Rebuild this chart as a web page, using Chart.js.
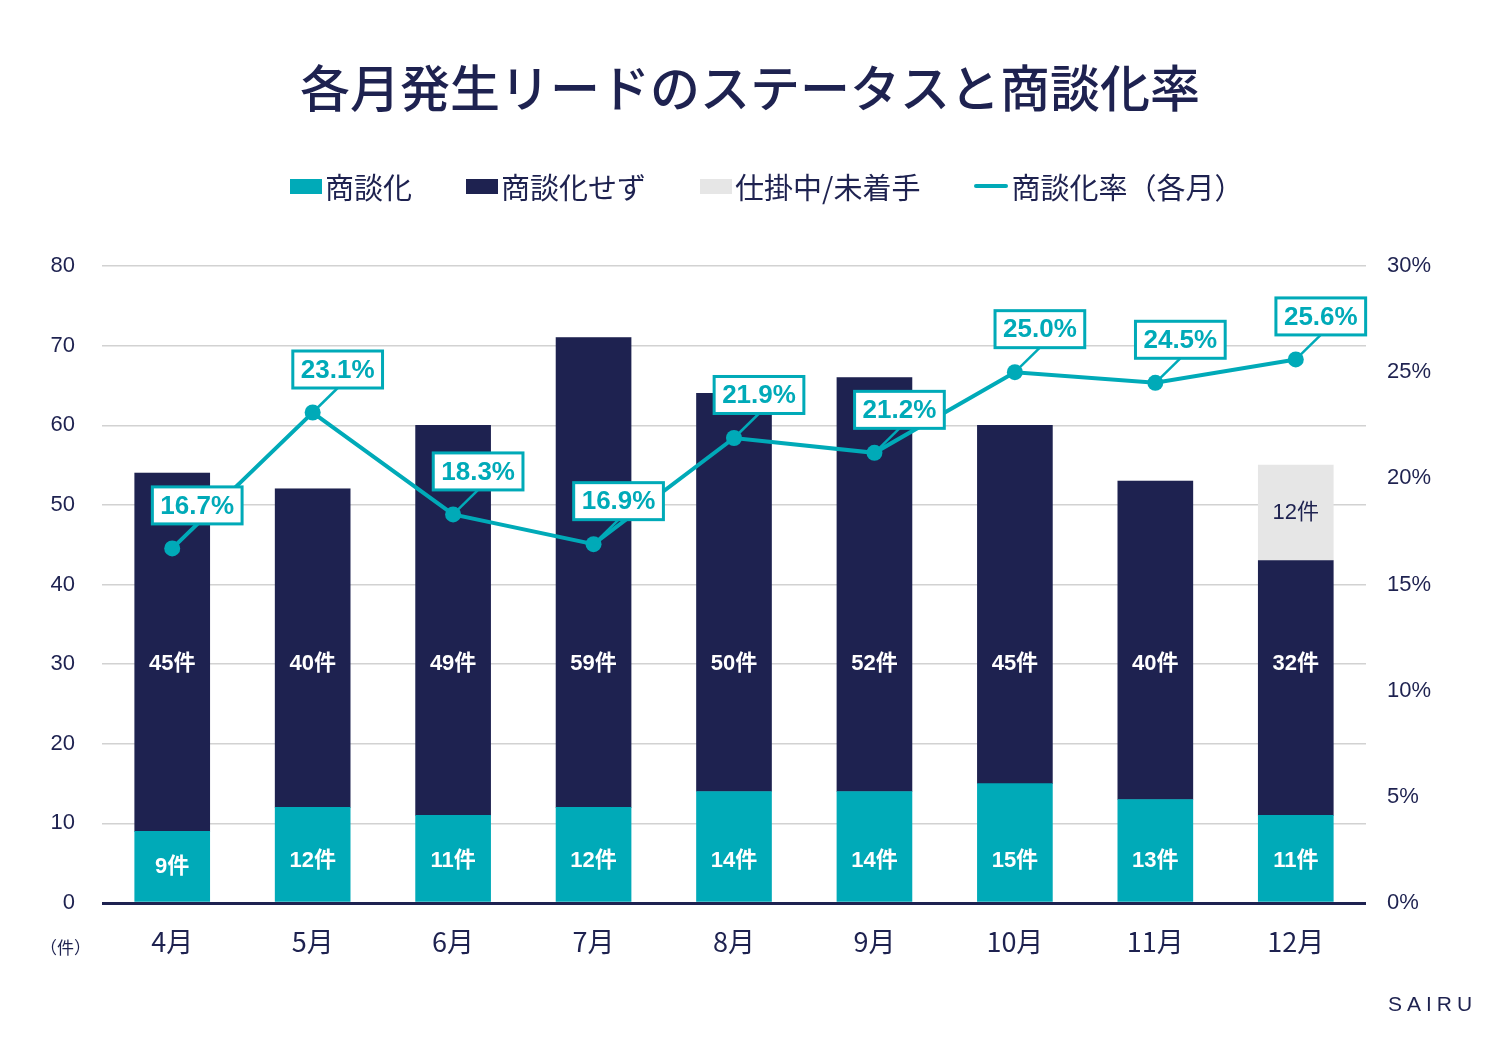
<!DOCTYPE html>
<html><head><meta charset="utf-8">
<script src="https://cdn.jsdelivr.net/npm/chart.js@4/dist/chart.umd.min.js"></script>
<style>
html,body{margin:0;padding:0;background:#fff;}
#wrap{position:relative;width:1500px;height:1037px;overflow:hidden;}
canvas{position:absolute;left:0;top:0;}
#title{position:absolute;left:0;width:1500px;top:50px;text-align:center;font-family:'Noto Sans CJK JP';font-size:50px;font-weight:500;color:#1E2250;line-height:70px;}
#legend{position:absolute;top:165px;left:290px;height:42px;display:flex;align-items:center;font-family:'Noto Sans CJK JP';font-size:29px;color:#1E2250;white-space:nowrap;}
.item{display:flex;align-items:center;margin-right:54px;}
.box{width:32px;height:15px;margin-right:3px;}
.ln{width:34px;height:4px;margin-right:3px;border-radius:2px;}
.tight{letter-spacing:-4px;}
#unit{position:absolute;left:40px;top:934px;font-family:'Noto Sans CJK JP';font-size:17px;color:#1E2250;}
#logo{position:absolute;left:1388px;top:992px;font-family:'Liberation Sans';font-size:21px;letter-spacing:5px;color:#1E2250;}
</style></head>
<body>
<div id="wrap">
<canvas id="c" width="1500" height="1037"></canvas>
<div id="title">各月発生リードのステータスと商談化率</div>
<div id="legend"></div>
<div id="unit">（件）</div>
<div id="logo">SAIRU</div>
</div>
<script>
const months = ['4月','5月','6月','7月','8月','9月','10月','11月','12月'];
const seriesNames = ['商談化','商談化せず','仕掛中/未着手','商談化率（各月）'];
const converted = [9,12,11,12,14,14,15,13,11];
const notConverted = [45,40,49,59,50,52,45,40,32];
const inProgress = [0,0,0,0,0,0,0,0,12];
const rate = [16.7,23.1,18.3,16.9,21.9,21.2,25.0,24.5,25.6];
const leftTicks = {min:0,max:80,step:10};
const rightTicks = {min:0,max:30,step:5};

const TEAL = '#00AAB8';
const NAVY = '#1E2250';
const GRAY = '#E6E6E6';
const colors = [TEAL, NAVY, GRAY, TEAL];

// legend
const lg = document.getElementById('legend');
seriesNames.forEach((n,i)=>{
  const it = document.createElement('div'); it.className='item';
  const sw = document.createElement('div'); sw.className = i===3 ? 'ln' : 'box';
  sw.style.background = colors[i];
  const t = document.createElement('span'); t.textContent = n;
  it.appendChild(sw); it.appendChild(t); lg.appendChild(it);
});

const labelPlugin = {
  id:'valueLabels',
  afterDatasetsDraw(chart){
    const ctx = chart.ctx, ys = chart.scales.y;
    const m0 = chart.getDatasetMeta(0), m1 = chart.getDatasetMeta(1), m2 = chart.getDatasetMeta(2), m3 = chart.getDatasetMeta(3);
    ctx.save();
    ctx.textAlign='center'; ctx.textBaseline='middle';
    ctx.font = 'bold 22px "Liberation Sans","Noto Sans CJK JP"';
    ctx.fillStyle = '#fff';
    converted.forEach((v,i)=>{
      ctx.fillText(v+'件', m0.data[i].x, ys.getPixelForValue(Math.min(v/2,5.3)));
    });
    notConverted.forEach((v,i)=>{
      ctx.fillText(v+'件', m1.data[i].x, ys.getPixelForValue(30));
    });
    ctx.font = '22px "Liberation Sans","Noto Sans CJK JP"';
    ctx.fillStyle = NAVY;
    inProgress.forEach((v,i)=>{
      if(v>0) ctx.fillText(v+'件', m2.data[i].x, ys.getPixelForValue(converted[i]+notConverted[i]+v/2));
    });
    // rate labels
    ctx.font = 'bold 26px "Liberation Sans"';
    rate.forEach((v,i)=>{
      const p = m3.data[i];
      const txt = v.toFixed(1)+'%';
      const w = ctx.measureText(txt).width + 16, h = 37;
      const bx = p.x + 25, by = p.y - 43;
      ctx.strokeStyle = TEAL; ctx.lineWidth = 2.5;
      ctx.beginPath(); ctx.moveTo(p.x,p.y); ctx.lineTo(bx, by + h/2); ctx.stroke();
      ctx.fillStyle = '#fff';
      ctx.fillRect(bx - w/2, by - h/2, w, h);
      ctx.lineWidth = 3;
      ctx.strokeRect(bx - w/2, by - h/2, w, h);
      ctx.fillStyle = TEAL;
      ctx.fillText(txt, bx, by + 1);
    });
    ctx.restore();
  }
};

new Chart(document.getElementById('c'), {
  data:{
    labels: months,
    datasets:[
      {type:'bar', label:seriesNames[0], data:converted, backgroundColor:TEAL, stack:'s', yAxisID:'y', order:1, barThickness:75},
      {type:'bar', label:seriesNames[1], data:notConverted, backgroundColor:NAVY, stack:'s', yAxisID:'y', order:1, barThickness:75},
      {type:'bar', label:seriesNames[2], data:inProgress, backgroundColor:GRAY, stack:'s', yAxisID:'y', order:1, barThickness:75},
      {type:'line', label:seriesNames[3], data:rate, borderColor:TEAL, backgroundColor:TEAL, borderWidth:4, pointRadius:8, pointHoverRadius:8, pointBorderWidth:0, pointBackgroundColor:TEAL, tension:0, yAxisID:'y1', order:0}
    ]
  },
  options:{
    responsive:false, animation:false,
    layout:{padding:{top:266,bottom:74,left:0,right:34}},
    plugins:{legend:{display:false}, title:{display:false}, tooltip:{enabled:false}},
    scales:{
      x:{
        grid:{display:false, drawTicks:false}, border:{display:false},
        ticks:{color:NAVY, padding:23, font:{family:'Noto Sans CJK JP', size:27}},
        afterFit(s){ s.height = 60; }
      },
      y:{
        position:'left', stacked:true, min:leftTicks.min, max:leftTicks.max,
        ticks:{stepSize:leftTicks.step, color:NAVY, padding:27, font:{family:'Liberation Sans', size:22}},
        grid:{drawTicks:false, color:(c)=> c.tick && c.tick.value===0 ? NAVY : '#D2D2D2', lineWidth:(c)=> c.tick && c.tick.value===0 ? 3 : 1.5},
        border:{display:false},
        afterFit(s){ s.width = 102; }
      },
      y1:{
        position:'right', min:rightTicks.min, max:rightTicks.max,
        ticks:{stepSize:rightTicks.step, color:NAVY, padding:21, font:{family:'Liberation Sans', size:22}, callback:(v)=> v+'%'},
        grid:{display:false, drawTicks:false}, border:{display:false},
        afterFit(s){ s.width = 100; }
      }
    }
  },
  plugins:[labelPlugin]
});
</script>
</body></html>
